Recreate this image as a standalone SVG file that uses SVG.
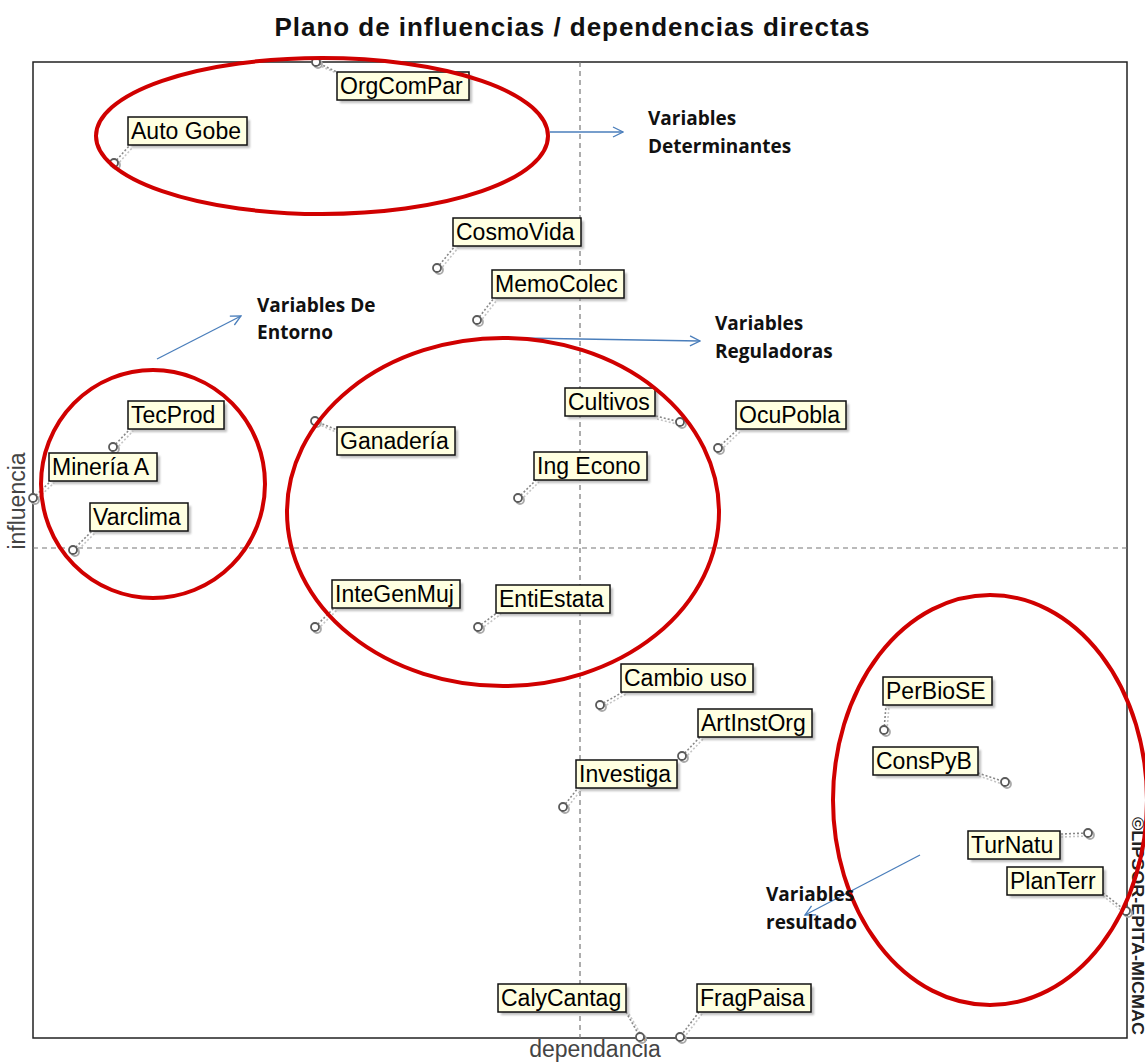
<svg xmlns="http://www.w3.org/2000/svg" width="1145" height="1064" viewBox="0 0 1145 1064">
<style>
.frame{fill:none;stroke:#222;stroke-width:1.5}
.axis{stroke:#777;stroke-width:1.2;stroke-dasharray:5 4}
.lead{stroke:#888;stroke-width:1.6;stroke-dasharray:2 2;fill:none}
.leadS{stroke:#c4c4c4;stroke-width:1.6;stroke-dasharray:2 2;fill:none}
.box{fill:#ffffe1;stroke:#111;stroke-width:1.5}
.shadow{fill:#8a8a8a;opacity:.55}
.lbl{font-family:"Liberation Sans",Arial,sans-serif;font-size:23px;fill:#000}
.pt{fill:#fff;stroke:#5a5a5a;stroke-width:1.8}
.ptS{fill:none;stroke:#aaa;stroke-width:1.8}
.ell{fill:none;stroke:#d00000;stroke-width:4}
.arr{stroke:#4a7ebb;stroke-width:1.3;fill:none;marker-end:url(#chev)}
.ann{font-family:"Open Sans","Liberation Sans",sans-serif;font-weight:bold;font-size:19px;fill:#111}
.ax{font-family:"Liberation Sans",Arial,sans-serif;font-size:23px;fill:#444}
</style>
<defs>
<filter id="blur" x="-20%" y="-20%" width="140%" height="140%"><feGaussianBlur stdDeviation="1.2"/></filter>
<marker id="chev" viewBox="0 0 12 12" refX="11" refY="6" markerWidth="12" markerHeight="12" markerUnits="userSpaceOnUse" orient="auto">
<path d="M1,1 L11,6 L1,11" fill="none" stroke="#4a7ebb" stroke-width="1.3"/>
</marker>
</defs>
<rect width="1145" height="1064" fill="#fff"/>
<text x="572" y="36" text-anchor="middle" textLength="595" style="font-family:'Liberation Sans',Arial,sans-serif;font-weight:bold;font-size:26px;fill:#111">Plano de influencias / dependencias directas</text>
<g id="plot">
<rect class="frame" x="33" y="62" width="1094" height="976"/>
<line class="axis" x1="580" y1="62" x2="580" y2="1038"/>
<line class="axis" x1="33" y1="548" x2="1127" y2="548"/>
<text class="ax" transform="translate(25,501) rotate(-90)" text-anchor="middle">influencia</text>
<text class="ax" x="595" y="1057" text-anchor="middle">dependancia</text>
<text transform="translate(1132,817) rotate(90)" textLength="218" lengthAdjust="spacingAndGlyphs" style="font-family:'Liberation Sans',Arial,sans-serif;font-weight:bold;font-size:16px;fill:#222">©LIPSOR-EPITA-MICMAC</text>
</g>
<g id="connectors">
<g id="leaders">
<line class="leadS" x1="318" y1="65" x2="341" y2="75"/><line class="lead" x1="316" y1="62" x2="339" y2="73"/>
<line class="leadS" x1="117" y1="165" x2="133" y2="147"/><line class="lead" x1="114" y1="163" x2="130" y2="145"/>
<line class="leadS" x1="440" y1="270" x2="458" y2="248"/><line class="lead" x1="437" y1="268" x2="455" y2="246"/>
<line class="leadS" x1="480" y1="322" x2="497" y2="300"/><line class="lead" x1="477" y1="320" x2="494" y2="298"/>
<line class="leadS" x1="116" y1="449" x2="133" y2="431"/><line class="lead" x1="113" y1="447" x2="130" y2="429"/>
<line class="leadS" x1="36" y1="500" x2="54" y2="483"/><line class="lead" x1="33" y1="498" x2="51" y2="481"/>
<line class="leadS" x1="76" y1="552" x2="95" y2="533"/><line class="lead" x1="73" y1="550" x2="92" y2="531"/>
<line class="leadS" x1="318" y1="424" x2="338" y2="433"/><line class="lead" x1="315" y1="421" x2="337" y2="430"/>
<line class="leadS" x1="657" y1="419" x2="681" y2="425"/><line class="lead" x1="656" y1="416" x2="680" y2="422"/>
<line class="leadS" x1="721" y1="450" x2="741" y2="431"/><line class="lead" x1="718" y1="448" x2="738" y2="429"/>
<line class="leadS" x1="521" y1="500" x2="539" y2="482"/><line class="lead" x1="518" y1="498" x2="536" y2="480"/>
<line class="leadS" x1="318" y1="629" x2="337" y2="610"/><line class="lead" x1="315" y1="627" x2="334" y2="608"/>
<line class="leadS" x1="481" y1="629" x2="501" y2="614"/><line class="lead" x1="478" y1="627" x2="498" y2="612"/>
<line class="leadS" x1="603" y1="707" x2="626" y2="694"/><line class="lead" x1="600" y1="705" x2="623" y2="692"/>
<line class="leadS" x1="685" y1="758" x2="703" y2="739"/><line class="lead" x1="682" y1="756" x2="700" y2="737"/>
<line class="leadS" x1="566" y1="809" x2="581" y2="790"/><line class="lead" x1="563" y1="807" x2="578" y2="788"/>
<line class="leadS" x1="887" y1="730" x2="889" y2="706"/><line class="lead" x1="884" y1="730" x2="886" y2="706"/>
<line class="leadS" x1="979" y1="776" x2="1005" y2="785"/><line class="lead" x1="978" y1="773" x2="1005" y2="782"/>
<line class="leadS" x1="1061" y1="837" x2="1088" y2="836"/><line class="lead" x1="1061" y1="834" x2="1088" y2="833"/>
<line class="leadS" x1="1103" y1="896" x2="1126" y2="914"/><line class="lead" x1="1103" y1="893" x2="1126" y2="911"/>
<line class="leadS" x1="629" y1="1014" x2="643" y2="1038"/><line class="lead" x1="626" y1="1012" x2="640" y2="1037"/>
<line class="leadS" x1="702" y1="1014" x2="683" y2="1039"/><line class="lead" x1="699" y1="1012" x2="680" y2="1037"/>
</g>
<g id="arrows">
<line class="arr" x1="550" y1="132" x2="623" y2="132"/>
<line class="arr" x1="157" y1="359" x2="241" y2="316"/>
<line class="arr" x1="520" y1="338" x2="700" y2="341"/>
<line class="arr" x1="920" y1="855" x2="805" y2="915"/>
</g>
</g>
<g id="points">
<circle class="ptS" cx="318" cy="64" r="4"/><circle class="pt" cx="316" cy="62" r="4"/>
<circle class="ptS" cx="116" cy="165" r="4"/><circle class="pt" cx="114" cy="163" r="4"/>
<circle class="ptS" cx="439" cy="270" r="4"/><circle class="pt" cx="437" cy="268" r="4"/>
<circle class="ptS" cx="479" cy="322" r="4"/><circle class="pt" cx="477" cy="320" r="4"/>
<circle class="ptS" cx="115" cy="449" r="4"/><circle class="pt" cx="113" cy="447" r="4"/>
<circle class="ptS" cx="35" cy="500" r="4"/><circle class="pt" cx="33" cy="498" r="4"/>
<circle class="ptS" cx="75" cy="552" r="4"/><circle class="pt" cx="73" cy="550" r="4"/>
<circle class="ptS" cx="317" cy="423" r="4"/><circle class="pt" cx="315" cy="421" r="4"/>
<circle class="ptS" cx="682" cy="424" r="4"/><circle class="pt" cx="680" cy="422" r="4"/>
<circle class="ptS" cx="720" cy="450" r="4"/><circle class="pt" cx="718" cy="448" r="4"/>
<circle class="ptS" cx="520" cy="500" r="4"/><circle class="pt" cx="518" cy="498" r="4"/>
<circle class="ptS" cx="317" cy="629" r="4"/><circle class="pt" cx="315" cy="627" r="4"/>
<circle class="ptS" cx="480" cy="629" r="4"/><circle class="pt" cx="478" cy="627" r="4"/>
<circle class="ptS" cx="602" cy="707" r="4"/><circle class="pt" cx="600" cy="705" r="4"/>
<circle class="ptS" cx="684" cy="758" r="4"/><circle class="pt" cx="682" cy="756" r="4"/>
<circle class="ptS" cx="565" cy="809" r="4"/><circle class="pt" cx="563" cy="807" r="4"/>
<circle class="ptS" cx="886" cy="732" r="4"/><circle class="pt" cx="884" cy="730" r="4"/>
<circle class="ptS" cx="1007" cy="784" r="4"/><circle class="pt" cx="1005" cy="782" r="4"/>
<circle class="ptS" cx="1090" cy="835" r="4"/><circle class="pt" cx="1088" cy="833" r="4"/>
<circle class="ptS" cx="1128" cy="913" r="4"/><circle class="pt" cx="1126" cy="911" r="4"/>
<circle class="ptS" cx="642" cy="1039" r="4"/><circle class="pt" cx="640" cy="1037" r="4"/>
<circle class="ptS" cx="682" cy="1039" r="4"/><circle class="pt" cx="680" cy="1037" r="4"/>
</g>
<g id="nodes">
<g id="n-OrgComPar"><rect class="shadow" filter="url(#blur)" x="340" y="75" width="132" height="28"/><rect class="box" x="337" y="72" width="132" height="28"/><text class="lbl" x="340" y="94">OrgComPar</text></g>
<g id="n-AutoGobe"><rect class="shadow" filter="url(#blur)" x="131" y="120" width="119" height="28"/><rect class="box" x="128" y="117" width="119" height="28"/><text class="lbl" x="131" y="139">Auto Gobe</text></g>
<g id="n-CosmoVida"><rect class="shadow" filter="url(#blur)" x="456" y="221" width="128" height="28"/><rect class="box" x="453" y="218" width="128" height="28"/><text class="lbl" x="456" y="240">CosmoVida</text></g>
<g id="n-MemoColec"><rect class="shadow" filter="url(#blur)" x="495" y="273" width="132" height="28"/><rect class="box" x="492" y="270" width="132" height="28"/><text class="lbl" x="495" y="292">MemoColec</text></g>
<g id="n-TecProd"><rect class="shadow" filter="url(#blur)" x="131" y="404" width="96" height="28"/><rect class="box" x="128" y="401" width="96" height="28"/><text class="lbl" x="131" y="423">TecProd</text></g>
<g id="n-MineriaA"><rect class="shadow" filter="url(#blur)" x="52" y="456" width="108" height="28"/><rect class="box" x="49" y="453" width="108" height="28"/><text class="lbl" x="52" y="475">Minería A</text></g>
<g id="n-Varclima"><rect class="shadow" filter="url(#blur)" x="93" y="506" width="98" height="28"/><rect class="box" x="90" y="503" width="98" height="28"/><text class="lbl" x="93" y="525">Varclima</text></g>
<g id="n-Ganaderia"><rect class="shadow" filter="url(#blur)" x="340" y="430" width="118" height="28"/><rect class="box" x="337" y="427" width="118" height="28"/><text class="lbl" x="340" y="449">Ganadería</text></g>
<g id="n-Cultivos"><rect class="shadow" filter="url(#blur)" x="568" y="391" width="90" height="28"/><rect class="box" x="565" y="388" width="90" height="28"/><text class="lbl" x="568" y="410">Cultivos</text></g>
<g id="n-OcuPobla"><rect class="shadow" filter="url(#blur)" x="739" y="404" width="110" height="28"/><rect class="box" x="736" y="401" width="110" height="28"/><text class="lbl" x="739" y="423">OcuPobla</text></g>
<g id="n-IngEcono"><rect class="shadow" filter="url(#blur)" x="537" y="455" width="113" height="28"/><rect class="box" x="534" y="452" width="113" height="28"/><text class="lbl" x="537" y="474">Ing Econo</text></g>
<g id="n-InteGenMuj"><rect class="shadow" filter="url(#blur)" x="335" y="583" width="128" height="28"/><rect class="box" x="332" y="580" width="128" height="28"/><text class="lbl" x="335" y="602">InteGenMuj</text></g>
<g id="n-EntiEstata"><rect class="shadow" filter="url(#blur)" x="499" y="588" width="114" height="28"/><rect class="box" x="496" y="585" width="114" height="28"/><text class="lbl" x="499" y="607">EntiEstata</text></g>
<g id="n-CambioUso"><rect class="shadow" filter="url(#blur)" x="624" y="667" width="132" height="28"/><rect class="box" x="621" y="664" width="132" height="28"/><text class="lbl" x="624" y="686">Cambio uso</text></g>
<g id="n-ArtInstOrg"><rect class="shadow" filter="url(#blur)" x="701" y="712" width="114" height="28"/><rect class="box" x="698" y="709" width="114" height="28"/><text class="lbl" x="701" y="731">ArtInstOrg</text></g>
<g id="n-Investiga"><rect class="shadow" filter="url(#blur)" x="579" y="763" width="101" height="28"/><rect class="box" x="576" y="760" width="101" height="28"/><text class="lbl" x="579" y="782">Investiga</text></g>
<g id="n-PerBioSE"><rect class="shadow" filter="url(#blur)" x="886" y="680" width="109" height="28"/><rect class="box" x="883" y="677" width="109" height="28"/><text class="lbl" x="886" y="699">PerBioSE</text></g>
<g id="n-ConsPyB"><rect class="shadow" filter="url(#blur)" x="876" y="750" width="105" height="28"/><rect class="box" x="873" y="747" width="105" height="28"/><text class="lbl" x="876" y="769">ConsPyB</text></g>
<g id="n-TurNatu"><rect class="shadow" filter="url(#blur)" x="971" y="834" width="92" height="28"/><rect class="box" x="968" y="831" width="92" height="28"/><text class="lbl" x="971" y="853">TurNatu</text></g>
<g id="n-PlanTerr"><rect class="shadow" filter="url(#blur)" x="1010" y="870" width="96" height="28"/><rect class="box" x="1007" y="867" width="96" height="28"/><text class="lbl" x="1010" y="889">PlanTerr</text></g>
<g id="n-CalyCantag"><rect class="shadow" filter="url(#blur)" x="501" y="987" width="128" height="28"/><rect class="box" x="498" y="984" width="128" height="28"/><text class="lbl" x="501" y="1006">CalyCantag</text></g>
<g id="n-FragPaisa"><rect class="shadow" filter="url(#blur)" x="700" y="987" width="114" height="28"/><rect class="box" x="697" y="984" width="114" height="28"/><text class="lbl" x="700" y="1006">FragPaisa</text></g>
</g>
<g id="groups">
<ellipse class="ell" cx="322" cy="136" rx="226" ry="78"/>
<ellipse class="ell" cx="153" cy="484" rx="112" ry="114"/>
<ellipse class="ell" cx="503" cy="512" rx="216" ry="174"/>
<ellipse class="ell" cx="990" cy="800" rx="157" ry="205"/>
</g>
<g id="annotations">
<text class="ann" x="648" y="125">Variables</text>
<text class="ann" x="648" y="153">Determinantes</text>
<text class="ann" x="257" y="312">Variables De</text>
<text class="ann" x="257" y="339">Entorno</text>
<text class="ann" x="715" y="330">Variables</text>
<text class="ann" x="715" y="358">Reguladoras</text>
<text class="ann" x="766" y="901">Variables</text>
<text class="ann" x="766" y="929">resultado</text>
</g>
</svg>
